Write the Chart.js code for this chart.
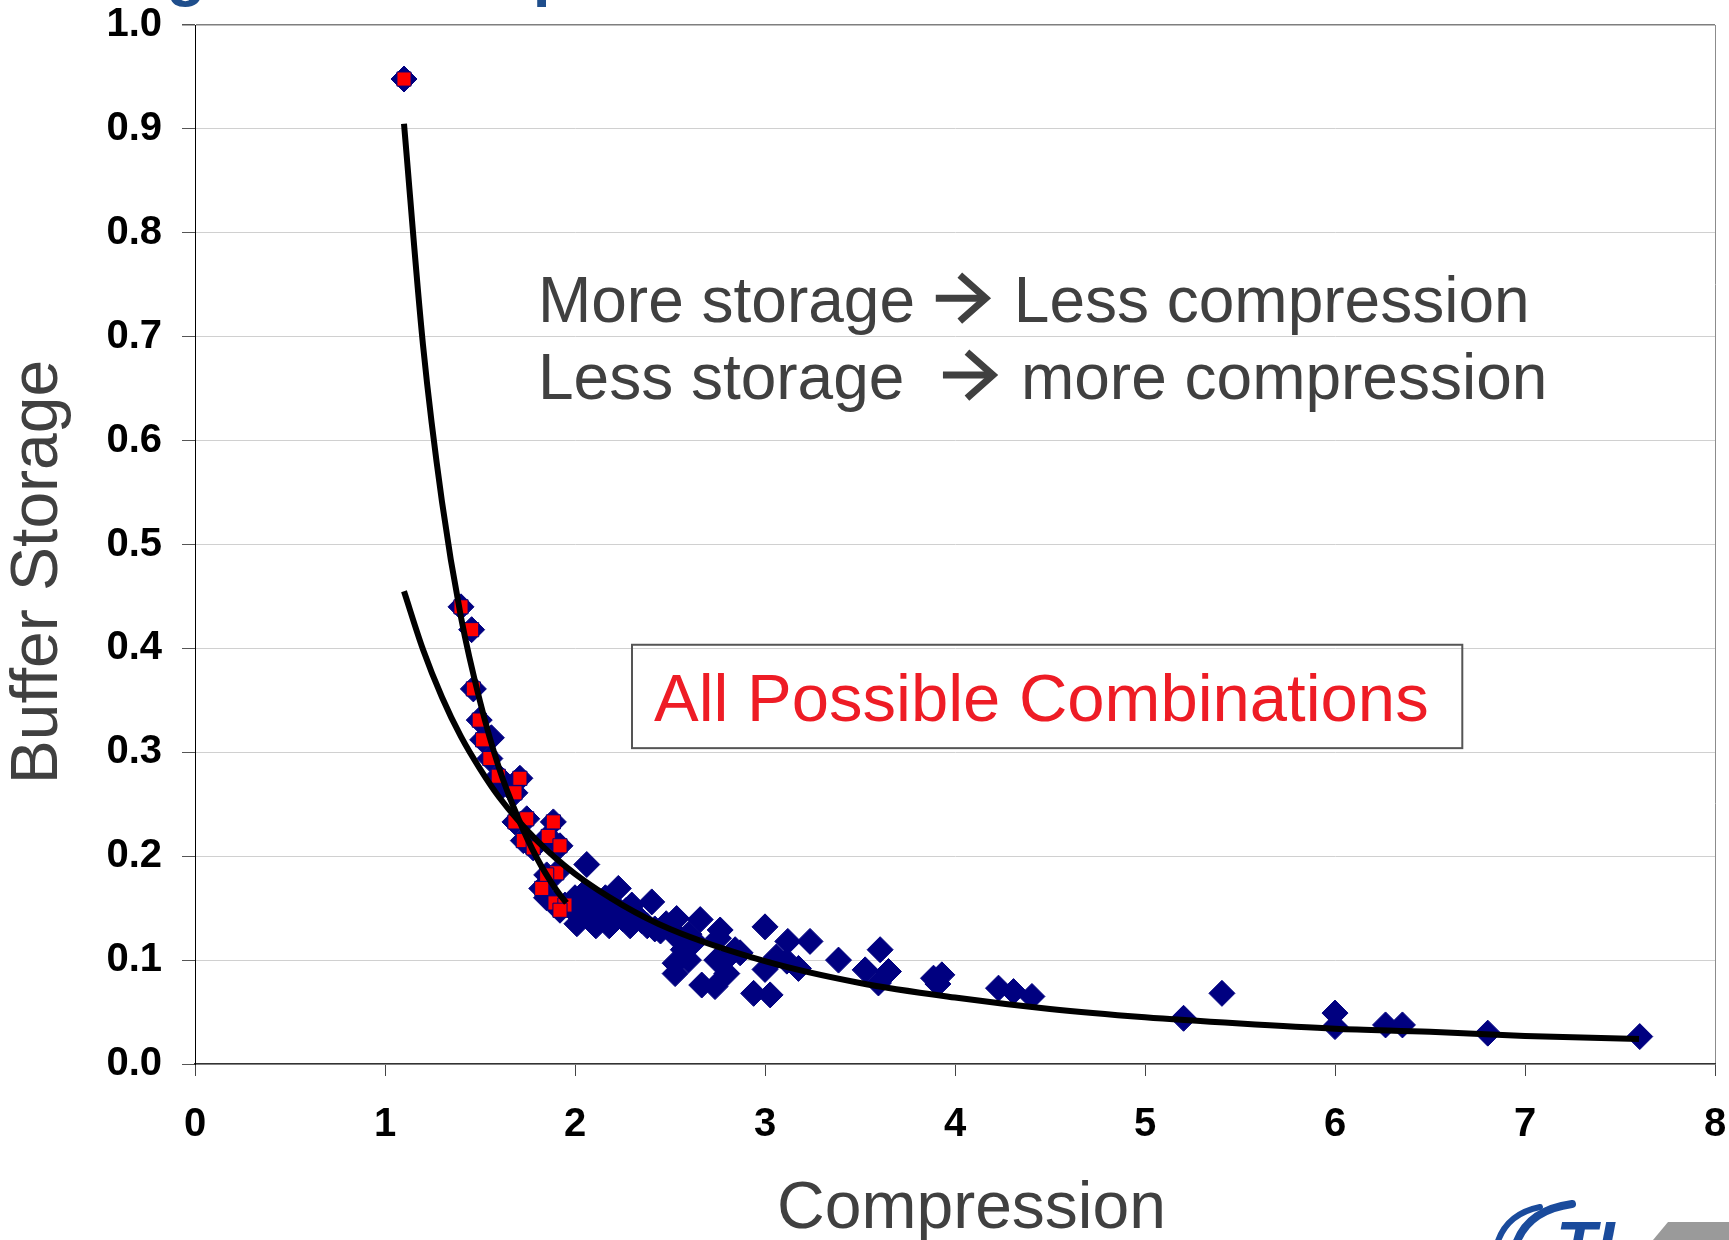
<!DOCTYPE html>
<html>
<head>
<meta charset="utf-8">
<title>Buffer Storage vs Compression</title>
<script src="https://cdn.jsdelivr.net/npm/chart.js@4.4.1/dist/chart.umd.min.js"></script>
<style>
  html, body { margin: 0; padding: 0; background: #fff; overflow: hidden; }
  canvas { display: block; }
</style>
</head>
<body>
<canvas id="myChart" width="1729" height="1240"></canvas>
<script>
// red points: combinations on the frontier (drawn on top of the blue diamonds)
const frontierCompression = [1.10, 1.40, 1.456, 1.465, 1.496, 1.514, 1.552, 1.596, 1.710, 1.684, 1.684, 1.746, 1.886, 1.728, 1.859, 1.921, 1.78, 1.904, 1.851, 1.825, 1.895, 1.947, 1.921];
const frontierStorage     = [0.948, 0.440, 0.418, 0.361, 0.331, 0.312, 0.294, 0.277, 0.275, 0.261, 0.233, 0.236, 0.233, 0.215, 0.219, 0.210, 0.208, 0.184, 0.182, 0.169, 0.155, 0.153, 0.148];

// other combinations (blue diamonds only)
const otherCompression = [1.56, 1.62, 1.85, 2.062,
  1.98, 2.00, 2.01, 2.03, 2.05, 2.07, 2.09, 2.11, 2.12, 2.14, 2.16, 2.18, 2.19, 2.22, 2.228, 2.25,
  2.27, 2.29, 2.299, 2.32, 2.35, 2.38, 2.404, 2.42, 2.45, 2.48, 2.52, 2.535, 2.56, 2.60, 2.63, 2.659,
  2.764, 2.755, 2.57, 2.527, 2.597, 2.527, 2.667, 2.737, 2.781, 2.799, 2.746, 2.843, 2.869,
  3.00, 3.00, 3.06, 3.115, 3.12, 3.176, 3.237, 2.94, 3.027, 3.387, 3.606, 3.527, 3.65, 3.597,
  3.887, 3.931, 3.91, 4.229, 4.308, 4.405, 5.203, 5.405, 6.0, 6.0, 6.266, 6.355, 6.804, 7.604];
const otherStorage = [0.314, 0.268, 0.160, 0.192,
  0.150, 0.160, 0.135, 0.145, 0.165, 0.150, 0.140, 0.133, 0.155, 0.145, 0.160, 0.133, 0.145, 0.150, 0.169, 0.140,
  0.148, 0.133, 0.153, 0.142, 0.138, 0.133, 0.156, 0.130, 0.128, 0.135, 0.125, 0.140, 0.120, 0.125, 0.118, 0.139,
  0.129, 0.121, 0.110, 0.097, 0.100, 0.087, 0.076, 0.0745, 0.0986, 0.087, 0.100, 0.110, 0.107,
  0.132, 0.091, 0.103, 0.099, 0.118, 0.092, 0.118, 0.068, 0.0665, 0.100, 0.110, 0.0906, 0.089, 0.078,
  0.0826, 0.0858, 0.077, 0.073, 0.0697, 0.065, 0.044, 0.068, 0.049, 0.036, 0.0376, 0.0376, 0.0297, 0.0264];

// trend curves
const steepFitX = [1.1, 1.2, 1.3, 1.4, 1.5, 1.6, 1.7, 1.8, 1.9, 1.955];
const steepFitY = [0.905, 0.692, 0.541, 0.430, 0.349, 0.285, 0.237, 0.198, 0.168, 0.155];
const allFitX = [1.1, 1.2, 1.3, 1.4, 1.5, 1.6, 1.8, 2.0, 2.25, 2.5, 3.0, 3.5, 4.0, 4.5, 5.0, 5.5, 6.0, 6.5, 7.0, 7.6];
const allFitY = [0.455, 0.399, 0.353, 0.315, 0.284, 0.257, 0.215, 0.183, 0.153, 0.130, 0.099, 0.078, 0.064, 0.053, 0.045, 0.039, 0.034, 0.031, 0.027, 0.024];

const xTicks = [0, 1, 2, 3, 4, 5, 6, 7, 8];
const yTicks = [0.0, 0.1, 0.2, 0.3, 0.4, 0.5, 0.6, 0.7, 0.8, 0.9, 1.0];

// each note line: text before the arrow, text after it
const noteLines = [['More storage ', 'Less compression'], ['Less storage  ', 'more compression']];
const boxLabel = 'All Possible Combinations';
const pageTitle = 'Storage and Compression Tradeoff';

function toPoints(xs, ys) {
    return xs.map((x, i) => ({ x: x, y: ys[i] }));
}

const FONT = "'Liberation Sans', Arial, Helvetica, sans-serif";
Chart.defaults.font.family = FONT;

function drawArrow(ctx, x, baseline) {
    // bold arrow as in the slide font
    const yc = baseline - 24;
    ctx.save();
    ctx.strokeStyle = '#404040';
    ctx.lineWidth = 7;
    ctx.lineCap = 'butt';
    ctx.lineJoin = 'miter';
    ctx.beginPath();
    ctx.moveTo(x, yc);
    ctx.lineTo(x + 50, yc);
    ctx.stroke();
    ctx.beginPath();
    ctx.moveTo(x + 24, yc - 23);
    ctx.lineTo(x + 50, yc);
    ctx.lineTo(x + 24, yc + 23);
    ctx.stroke();
    ctx.restore();
}

// text, box and logo drawn on the canvas around the plot
const decorations = {
    id: 'decorations',
    afterDraw(chart) {
        const ctx = chart.ctx;
        const x = chart.scales.x;
        const y = chart.scales.y;
        ctx.save();

        // slide title, cut off at the top of the picture
        ctx.font = 'bold 64px ' + FONT;
        ctx.fillStyle = '#1f4e8c';
        ctx.textBaseline = 'alphabetic';
        ctx.textAlign = 'left';
        ctx.fillText(pageTitle, 3, -6);

        // annotation
        ctx.font = '64px ' + FONT;
        ctx.fillStyle = '#404040';
        const x0 = x.getPixelForValue(1.805);
        [0.714, 0.640].forEach((v, i) => {
            const base = y.getPixelForValue(v);
            const left = noteLines[i][0];
            ctx.fillText(left, x0, base);
            const ax = x0 + ctx.measureText(left).width + 3;
            drawArrow(ctx, ax, base);
            ctx.fillText(noteLines[i][1], ax + 78, base);
        });

        // boxed label
        const bl = x.getPixelForValue(2.30), br = x.getPixelForValue(6.67);
        const bt = y.getPixelForValue(0.4035), bb = y.getPixelForValue(0.304);
        ctx.strokeStyle = '#555';
        ctx.lineWidth = 2;
        ctx.strokeRect(bl, bt, br - bl, bb - bt);
        ctx.font = '67px ' + FONT;
        ctx.fillStyle = '#ee1c25';
        ctx.fillText(boxLabel, x.getPixelForValue(2.416), y.getPixelForValue(0.330));

        // logo in the corner, mostly off the picture
        ctx.strokeStyle = '#1a4b9c';
        ctx.lineCap = 'round';
        ctx.lineWidth = 6;
        ctx.beginPath();
        ctx.moveTo(1497, 1244);
        ctx.quadraticCurveTo(1506, 1214, 1540, 1207);
        ctx.stroke();
        ctx.lineWidth = 8;
        ctx.beginPath();
        ctx.moveTo(1516, 1244);
        ctx.quadraticCurveTo(1528, 1210, 1572, 1204);
        ctx.stroke();
        ctx.font = 'italic bold 66px ' + FONT;
        ctx.fillStyle = '#1a4b9c';
        ctx.fillText('TI', 1556, 1268);
        ctx.fillStyle = '#9a9a9a';
        ctx.beginPath();
        ctx.moveTo(1653, 1240);
        ctx.lineTo(1668, 1222);
        ctx.lineTo(1729, 1222);
        ctx.lineTo(1729, 1240);
        ctx.closePath();
        ctx.fill();

        ctx.restore();
    }
};

const ctx = document.getElementById('myChart');

new Chart(ctx, {
    type: 'scatter',
    data: {
        datasets: [{
            label: 'Frontier fit',
            type: 'line',
            data: toPoints(steepFitX, steepFitY),
            borderColor: '#000',
            borderWidth: 6,
            pointRadius: 0,
            fill: false,
            cubicInterpolationMode: 'monotone'
        }, {
            label: 'All fit',
            type: 'line',
            data: toPoints(allFitX, allFitY),
            borderColor: '#000',
            borderWidth: 6,
            pointRadius: 0,
            fill: false,
            cubicInterpolationMode: 'monotone'
        }, {
            label: 'Frontier',
            data: toPoints(frontierCompression, frontierStorage),
            pointStyle: 'rect',
            pointRadius: 10,
            backgroundColor: '#ff0000',
            borderColor: '#000080',
            borderWidth: 1
        }, {
            label: 'All Possible Combinations',
            data: toPoints(otherCompression.concat(frontierCompression), otherStorage.concat(frontierStorage)),
            pointStyle: 'rectRot',
            pointRadius: 13,
            backgroundColor: '#000080',
            borderColor: '#000080',
            borderWidth: 1
        }]
    },
    options: {
        responsive: false,
        devicePixelRatio: 1,
        animation: false,
        layout: {
            padding: { top: 25, right: 14, left: 0, bottom: 0 }
        },
        plugins: {
            legend: { display: false },
            tooltip: { enabled: false }
        },
        scales: {
            x: {
                type: 'linear',
                min: 0,
                max: 8,
                afterFit(scale) {
                    scale.height = 176;
                    scale.paddingLeft = 0;
                    scale.paddingRight = 0;
                },
                afterBuildTicks(scale) { scale.ticks = xTicks.map(v => ({ value: v })); },
                border: { color: '#333', width: 1.5 },
                grid: {
                    drawOnChartArea: true,
                    color: c => (c.tick && c.tick.value === 8) ? '#8c8c8c' : 'rgba(0,0,0,0)',
                    tickColor: '#444',
                    tickLength: 12
                },
                ticks: {
                    color: '#000',
                    padding: 25,
                    font: { size: 40, weight: 'bold' },
                    callback: v => String(v)
                },
                title: {
                    display: true,
                    text: '\u2002Compression',
                    color: '#404040',
                    font: { size: 66, lineHeight: 1 },
                    padding: { top: 0, bottom: -3 }
                }
            },
            y: {
                type: 'linear',
                min: 0,
                max: 1,
                afterFit(scale) {
                    scale.width = 195;
                    scale.paddingTop = 0;
                    scale.paddingBottom = 0;
                },
                afterBuildTicks(scale) { scale.ticks = yTicks.map(v => ({ value: v })); },
                border: { color: '#000', width: 1 },
                grid: {
                    color: c => (c.tick && c.tick.value === 1) ? '#7f7f7f' : '#d0d0d0',
                    lineWidth: c => (c.tick && c.tick.value === 1) ? 1.5 : 1,
                    tickColor: '#555',
                    tickLength: 13
                },
                ticks: {
                    color: '#000',
                    padding: 20,
                    font: { size: 40, weight: 'bold' },
                    callback: v => v.toFixed(1)
                },
                title: {
                    display: true,
                    text: 'Buffer Storage   ',
                    color: '#404040',
                    font: { size: 66, lineHeight: 1 },
                    padding: { top: 6, bottom: 0 }
                }
            }
        }
    },
    plugins: [decorations]
});
</script>
</body>
</html>
